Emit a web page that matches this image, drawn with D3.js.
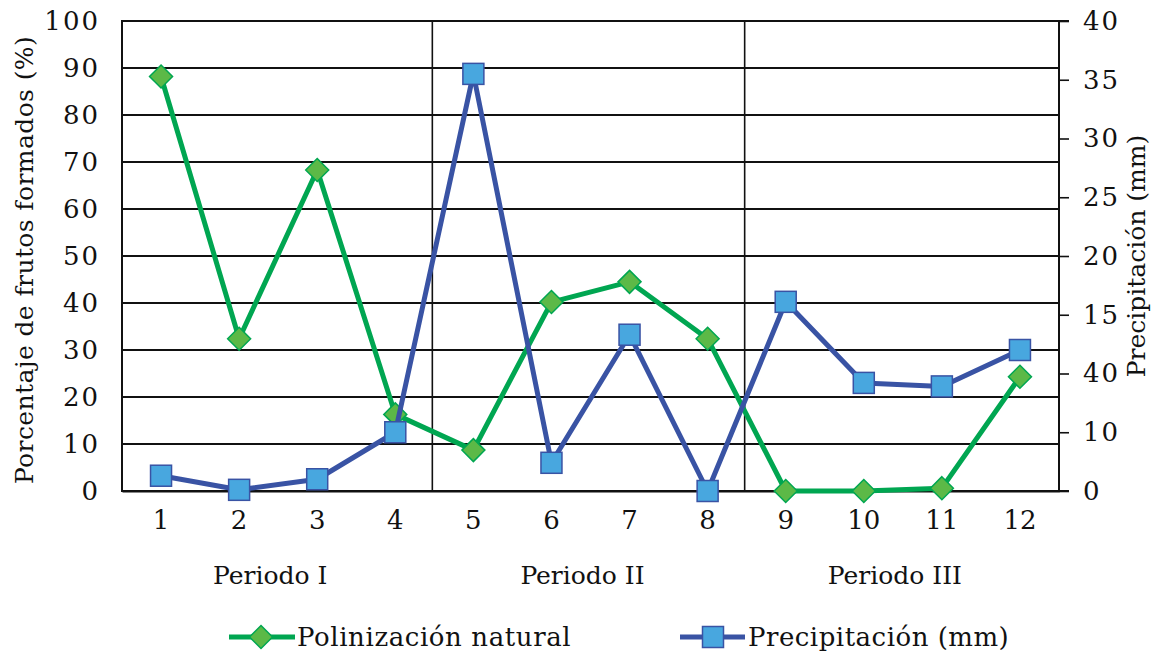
<!DOCTYPE html>
<html>
<head>
<meta charset="utf-8">
<script src="https://cdn.jsdelivr.net/npm/d3@7"></script>
<style>
  html, body { margin: 0; padding: 0; background: #fff; }
  svg { display: block; }
  text { font-family: "DejaVu Serif", "Liberation Serif", serif; fill: #111; }
</style>
</head>
<body>
<svg id="chart" width="1152" height="653"></svg>
<script>
// Month indices along the x axis
const months = [1, 2, 3, 4, 5, 6, 7, 8, 9, 10, 11, 12];

// Fruit set under natural pollination (%), left axis
const polinizacion = [88.2, 32.4, 68.3, 16.3, 8.7, 40.2, 44.5, 32.4, 0, 0, 0.6, 24.3];

// Rainfall (mm), right axis
const precipitacion = [1.3, 0.1, 1.0, 5.0, 35.5, 2.4, 13.3, 0, 16.1, 9.2, 8.9, 12.0];

// Left axis ticks
const leftTicks = [0, 10, 20, 30, 40, 50, 60, 70, 80, 90, 100];

// Right axis ticks and their printed labels
const rightTicks = [0, 5, 10, 15, 20, 25, 30, 35, 40];
const rightTickLabels = ["0", "10", "40", "15", "20", "25", "30", "35", "40"];

// Periods grouping the months
const periods = ["Periodo I", "Periodo II", "Periodo III"];
const periodFirst = [1, 5, 9];
const periodLast = [4, 8, 12];

const seriesNames = ["Polinización natural", "Precipitación (mm)"];

const green = "#00a651", greenFill = "#5cb947";
const blue = "#3953a4", blueFill = "#48a7df";

const svg = d3.select("#chart");
const plotLeft = 122, plotRight = 1059, plotTop = 21, plotBottom = 491;

const x = d3.scaleBand().domain(months).range([plotLeft, plotRight]).paddingInner(0).paddingOuter(0);
const yL = d3.scaleLinear().domain([0, 100]).range([plotBottom, plotTop]);
const yR = d3.scaleLinear().domain([0, 40]).range([plotBottom, plotTop]);
const cx = d => x(d) + x.bandwidth() / 2;

// Horizontal gridlines from the left scale
svg.append("g").selectAll("line").data(leftTicks).join("line")
  .attr("x1", plotLeft).attr("x2", plotRight)
  .attr("y1", d => yL(d)).attr("y2", d => yL(d))
  .attr("stroke", "#111").attr("stroke-width", 2);

// Period separators
svg.append("g").selectAll("line").data(periodLast.slice(0, -1)).join("line")
  .attr("x1", d => x(d) + x.bandwidth() - 2).attr("x2", d => x(d) + x.bandwidth() - 2)
  .attr("y1", plotTop).attr("y2", plotBottom)
  .attr("stroke", "#111").attr("stroke-width", 1.6);

// Left edge of the frame
svg.append("line").attr("x1", plotLeft).attr("x2", plotLeft).attr("y1", plotTop - 1).attr("y2", plotBottom + 1)
  .attr("stroke", "#111").attr("stroke-width", 2);

// Left axis labels
const leftAxis = d3.axisLeft(yL).tickValues(leftTicks).tickSize(0).tickPadding(22);
const gL = svg.append("g").attr("transform", `translate(${plotLeft},0)`).call(leftAxis);
gL.select(".domain").remove();
gL.selectAll("text").style("font-size", "26px").style("font-family", "DejaVu Serif")
  .style("letter-spacing", "2px").attr("fill", "#111");

// Right axis with outward ticks
const rightAxis = d3.axisRight(yR).tickValues(rightTicks).tickSize(10).tickPadding(14)
  .tickFormat((d, i) => rightTickLabels[i]);
const gR = svg.append("g").attr("transform", `translate(${plotRight},0)`).call(rightAxis);
gR.select(".domain").attr("stroke", "#111").attr("stroke-width", 2).attr("d", `M10,${plotBottom}H0V${plotTop}H10`);
gR.selectAll(".tick line").attr("stroke", "#111").attr("stroke-width", 1.6);
gR.selectAll("text").style("font-size", "26px").style("font-family", "DejaVu Serif")
  .style("letter-spacing", "2px").attr("fill", "#111");

// Bottom axis labels
const bottomAxis = d3.axisBottom(x).tickSize(0).tickPadding(20);
const gB = svg.append("g").attr("transform", `translate(0,${plotBottom})`).call(bottomAxis);
gB.select(".domain").attr("stroke", "#111").attr("stroke-width", 2);
gB.selectAll("text").style("font-size", "26px").style("font-family", "DejaVu Serif").attr("fill", "#111");

// Period labels
svg.append("g").selectAll("text").data(periods).join("text")
  .attr("x", (d, i) => (x(periodFirst[i]) + x(periodLast[i]) + x.bandwidth()) / 2 - 8)
  .attr("y", 584)
  .attr("text-anchor", "middle")
  .style("font-size", "25px")
  .text(d => d);

// Axis titles
svg.append("text")
  .attr("transform", `translate(33,${(plotTop + plotBottom) / 2 + 4}) rotate(-90)`)
  .attr("text-anchor", "middle")
  .style("font-size", "25px")
  .style("letter-spacing", "0.4px")
  .text("Porcentaje de frutos formados (%)");
svg.append("text")
  .attr("transform", `translate(1145,${(plotTop + plotBottom) / 2}) rotate(-90)`)
  .attr("text-anchor", "middle")
  .style("font-size", "25px")
  .text("Precipitación (mm)");

const diamond = (px, py, r) => `M${px},${py - r}L${px + r},${py}L${px},${py + r}L${px - r},${py}Z`;

// Natural pollination series
const lineL = d3.line().x((d, i) => cx(months[i])).y(d => yL(d));
svg.append("path").datum(polinizacion).attr("d", lineL)
  .attr("fill", "none").attr("stroke", green).attr("stroke-width", 5).attr("stroke-linejoin", "round");
svg.append("g").selectAll("path").data(polinizacion).join("path")
  .attr("d", (d, i) => diamond(cx(months[i]), yL(d), 11.5))
  .attr("fill", greenFill).attr("stroke", green).attr("stroke-width", 1.5);

// Rainfall series
const lineR = d3.line().x((d, i) => cx(months[i])).y(d => yR(d));
svg.append("path").datum(precipitacion).attr("d", lineR)
  .attr("fill", "none").attr("stroke", blue).attr("stroke-width", 5).attr("stroke-linejoin", "round");
svg.append("g").selectAll("rect").data(precipitacion).join("rect")
  .attr("x", (d, i) => cx(months[i]) - 10.5).attr("y", d => yR(d) - 10.5)
  .attr("width", 21).attr("height", 21)
  .attr("fill", blueFill).attr("stroke", blue).attr("stroke-width", 1.5);

// Legend
const legendY = 637;
const lg = svg.append("g");
lg.append("line").attr("x1", 229).attr("x2", 295).attr("y1", legendY).attr("y2", legendY)
  .attr("stroke", green).attr("stroke-width", 5);
lg.append("path").attr("d", diamond(261, legendY, 11.5))
  .attr("fill", greenFill).attr("stroke", green).attr("stroke-width", 1.5);
lg.append("text").attr("x", 297).attr("y", legendY + 9).style("font-size", "26px")
  .style("letter-spacing", "0.6px").text(seriesNames[0]);
lg.append("line").attr("x1", 680).attr("x2", 745).attr("y1", legendY).attr("y2", legendY)
  .attr("stroke", blue).attr("stroke-width", 5);
lg.append("rect").attr("x", 713 - 10.5).attr("y", legendY - 10.5).attr("width", 21).attr("height", 21)
  .attr("fill", blueFill).attr("stroke", blue).attr("stroke-width", 1.5);
lg.append("text").attr("x", 748).attr("y", legendY + 9).style("font-size", "26px")
  .style("letter-spacing", "0.5px").text(seriesNames[1]);
</script>
</body>
</html>
